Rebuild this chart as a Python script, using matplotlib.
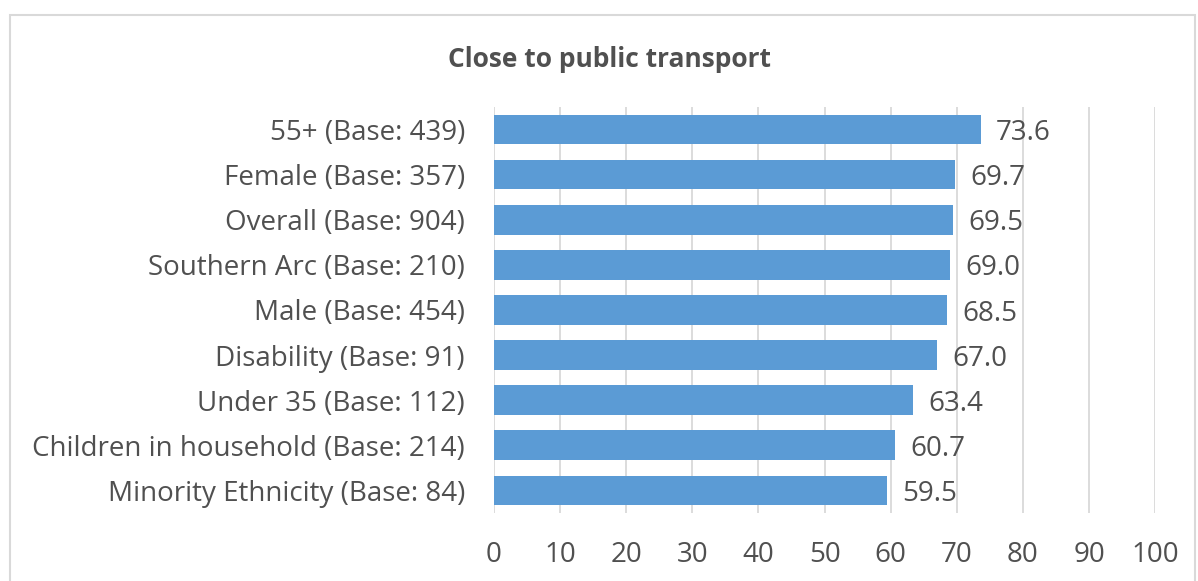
import matplotlib
matplotlib.use("Agg")
import matplotlib.pyplot as plt
from matplotlib.patches import Rectangle

categories = ["55+ (Base: 439)", "Female (Base: 357)", "Overall (Base: 904)",
              "Southern Arc (Base: 210)", "Male (Base: 454)", "Disability (Base: 91)",
              "Under 35 (Base: 112)", "Children in household (Base: 214)",
              "Minority Ethnicity (Base: 84)"]
values = [73.6, 69.7, 69.5, 69.0, 68.5, 67.0, 63.4, 60.7, 59.5]
xticks = [0, 10, 20, 30, 40, 50, 60, 70, 80, 90, 100]
title = "Close to public transport"

plt.rcParams['font.family'] = ['Open Sans', 'DejaVu Sans']
text_col = "#505050"
fs = 20

fig = plt.figure(figsize=(11.98, 5.81), dpi=100)
ax = fig.add_axes([0.4124, 0.117, 0.5518, 0.699])
fig.patches.append(Rectangle((0.0087, -0.02), 0.989, 0.994, transform=fig.transFigure,
                             fill=False, edgecolor="#D9D9D9", linewidth=1.5))

ypos = list(range(len(categories)))
ax.barh(ypos, values, height=0.66, color="#5B9BD5", zorder=3)
for y, v in zip(ypos, values):
    ax.text(v + 2.3, y + 0.08, f"{v:.1f}", va="center", ha="left",
            fontsize=fs, color=text_col)

ax.set_ylim(len(categories) - 0.5, -0.5)
ax.set_xlim(0, 100)
ax.set_yticks(ypos)
ax.set_yticklabels(categories, fontsize=fs, color=text_col)
ax.set_xticks(xticks)
ax.set_xticklabels([str(t) for t in xticks], fontsize=fs, color=text_col)
ax.tick_params(axis='both', length=0)
ax.tick_params(axis='x', pad=20)
ax.tick_params(axis='y', pad=21)
ax.grid(axis='x', color="#D9D9D9", linewidth=1.3, zorder=0)
for s in ax.spines.values():
    s.set_visible(False)

fig.text(0.509, 0.898, title, ha="center", va="center", fontsize=19,
         fontweight="bold", color=text_col)

fig.savefig("out.png", dpi=100)
